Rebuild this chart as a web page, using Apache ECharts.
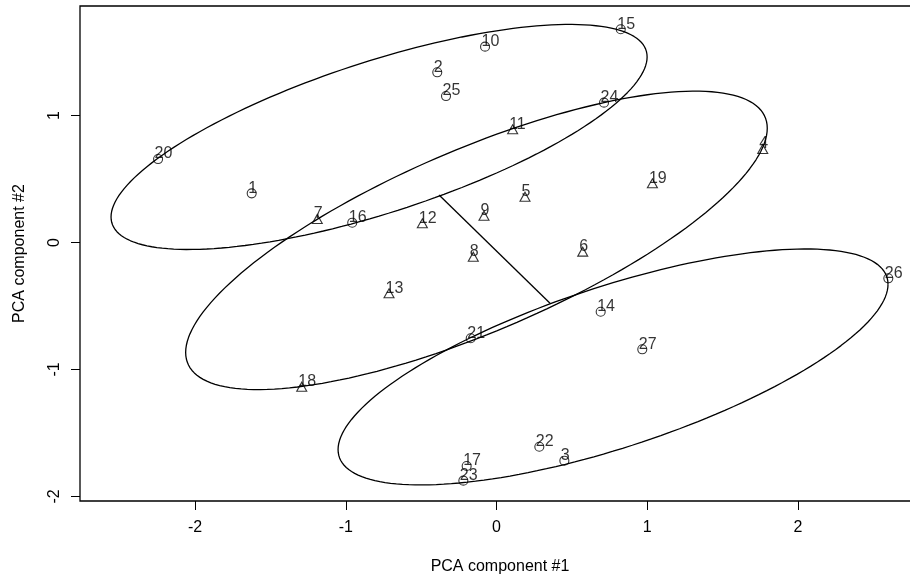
<!DOCTYPE html>
<html><head><meta charset="utf-8">
<script src="https://cdn.jsdelivr.net/npm/echarts@6/dist/echarts.min.js"></script>
<style>html,body{margin:0;padding:0;background:#fff}#c{width:910px;height:584px}</style>
</head><body><div id="c"></div>
<script>
// Observation labels and PCA scores
const ids = ['1','2','3','4','5','6','7','8','9','10','11','12','13','14','15','16','17','18','19','20','21','22','23','24','25','26','27'];
const pc1 = [-1.624,-0.393,0.450,1.766,0.189,0.572,-1.189,-0.154,-0.083,-0.076,0.107,-0.492,-0.713,0.691,0.824,-0.957,-0.198,-1.292,1.034,-2.245,-0.171,0.284,-0.220,0.713,-0.335,2.599,0.967];
const pc2 = [0.387,1.340,-1.718,0.736,0.361,-0.072,0.185,-0.112,0.211,1.542,0.891,0.151,-0.400,-0.545,1.679,0.156,-1.760,-1.135,0.466,0.657,-0.754,-1.608,-1.875,1.101,1.153,-0.282,-0.841];
const shapes = ['o','o','o','t','t','t','t','t','t','o','t','t','t','o','o','o','o','t','t','o','o','o','o','o','o','o','o'];
// Axis ticks
const xTicks = [-2,-1,0,1,2];
const yTicks = [-2,-1,0,1];
// Ellipses: centre, half x-extent, half y-extent, correlation
const ellCx = [-0.779,-0.133,0.773];
const ellCy = [0.831,0.017,-0.980];
const ellRx = [1.778,1.929,1.824];
const ellRy = [0.886,1.175,0.929];
const ellRho = [0.711,0.751,0.700];
// Segment between group centres
const segX = [-0.381,0.355];
const segY = [0.374,-0.479];

const FONT = 'Liberation Sans, Arial, Helvetica, sans-serif';
const FS = 16;

function ellipsePoints(k){
  const pts = [];
  const s = Math.sqrt(1 - ellRho[k]*ellRho[k]);
  for (let d = 0; d <= 360; d += 2){
    const t = d*Math.PI/180;
    pts.push([ellCx[k] + ellRx[k]*Math.cos(t), ellCy[k] + ellRy[k]*(ellRho[k]*Math.cos(t) + s*Math.sin(t))]);
  }
  return pts;
}
function pointsOf(shape){
  const out = [];
  for (let i = 0; i < ids.length; i++) if (shapes[i] === shape) out.push([pc1[i], pc2[i], ids[i]]);
  return out;
}
const labelCfg = {
  show: true, position: 'inside', align: 'left', verticalAlign: 'bottom',
  offset: [-3.5, 3], formatter: p => p.value[2],
  color: '#000', fontSize: FS, fontFamily: FONT
};
const series = [
  { type:'scatter', data: pointsOf('o'), symbol:'circle', symbolSize:9,
    itemStyle:{color:'rgba(0,0,0,0)', borderColor:'#000', borderWidth:1.1}, label: labelCfg, z:3 },
  { type:'scatter', data: pointsOf('t'), symbol:'triangle', symbolSize:[10,9],
    itemStyle:{color:'rgba(0,0,0,0)', borderColor:'#000', borderWidth:1.1}, label: labelCfg, z:3 }
];
for (let k = 0; k < ellCx.length; k++){
  series.push({ type:'line', data: ellipsePoints(k), showSymbol:false, smooth:false,
    lineStyle:{color:'#000', width:1.3}, z:2 });
}
series.push({ type:'line', data: segX.map((x,i)=>[x, segY[i]]), showSymbol:false,
  lineStyle:{color:'#000', width:1.3}, z:2 });

const chart = echarts.init(document.getElementById('c'), null, {renderer:'canvas'});
chart.setOption({
  animation: false,
  backgroundColor: '#fff',
  grid: { left:80, top:6, width:840, height:495, show:true, borderColor:'#000', borderWidth:1.3,
          backgroundColor:'transparent', containLabel:false, outerBoundsMode:'none' },
  xAxis: {
    type:'value', min:-2.7629, max:2.8092,
    axisLine:{show:false, onZero:false}, splitLine:{show:false},
    axisTick:{show:true, length:9, customValues:xTicks, lineStyle:{color:'#000', width:1}},
    axisLabel:{customValues:xTicks, color:'#000', fontSize:FS, fontFamily:FONT, margin:19},
    name:'PCA component #1', nameLocation:'middle', nameGap:58,
    nameTextStyle:{color:'#000', fontSize:FS, fontFamily:FONT}
  },
  yAxis: {
    type:'value', min:-2.0354, max:1.8622,
    axisLine:{show:false, onZero:false}, splitLine:{show:false},
    axisTick:{show:true, length:9, customValues:yTicks, lineStyle:{color:'#000', width:1}},
    axisLabel:{customValues:yTicks, rotate:90, color:'#000', fontSize:FS, fontFamily:FONT, margin:17},
    name:'PCA component #2', nameLocation:'middle', nameGap:52,
    nameTextStyle:{color:'#000', fontSize:FS, fontFamily:FONT}
  },
  series: series
});
</script></body></html>
